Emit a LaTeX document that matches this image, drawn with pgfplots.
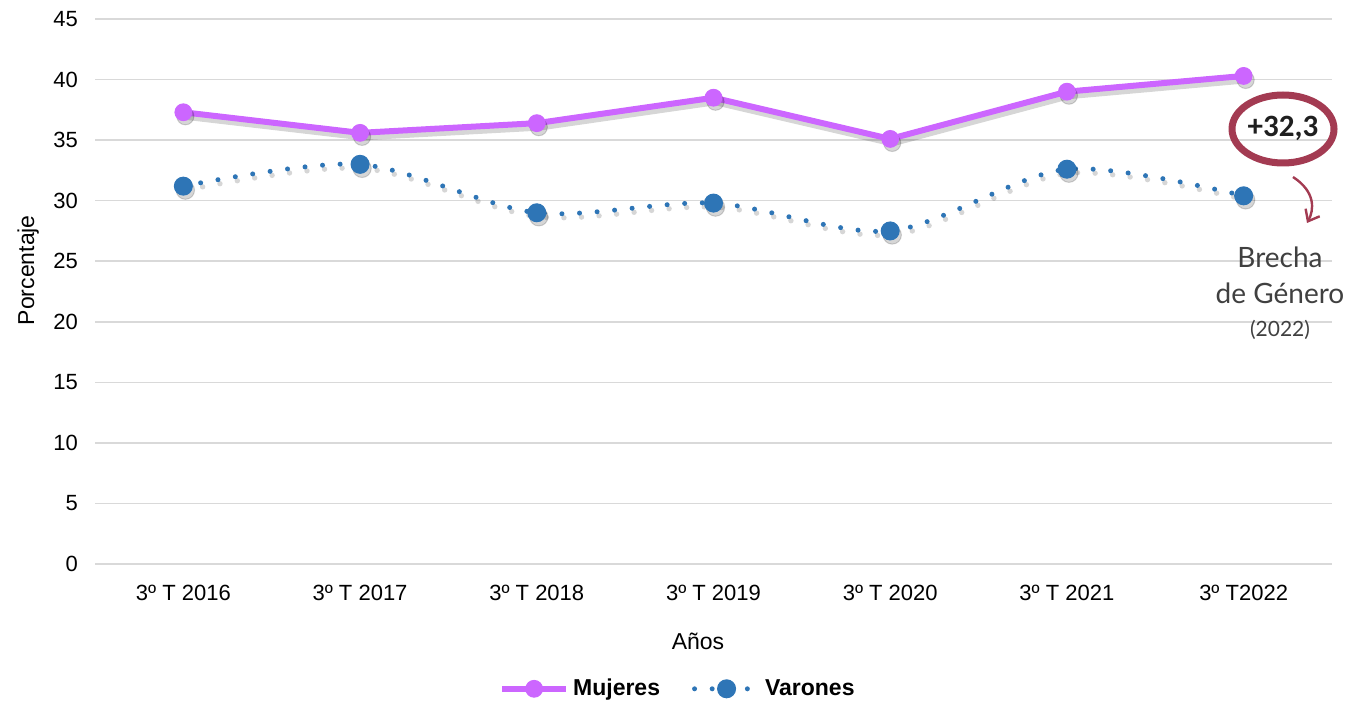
\documentclass[border=0pt]{standalone}
\usepackage{pgfplots}
\pgfplotsset{compat=1.18}
\usepackage{pgfplotstable}
\usepackage{fontspec}
\setmainfont{Liberation Sans}
\newfontfamily\calib{Carlito}
\newfontfamily\hand{Lato}
\usetikzlibrary{arrows.meta}
\definecolor{muj}{HTML}{CC66FF}
\definecolor{var}{HTML}{2E75B6}
\definecolor{gridc}{HTML}{D9D9D9}
\definecolor{ann}{HTML}{A33B52}
\definecolor{txt}{HTML}{404040}

\pgfplotstableread{
x m v
0 37.3 31.2
1 35.6 33.0
2 36.4 29.0
3 38.5 29.8
4 35.1 27.5
5 39.0 32.6
6 40.3 30.4
}\datatable

\begin{document}
\begin{tikzpicture}
\useasboundingbox (0,0) rectangle (680pt,351pt);
\begin{axis}[
  at={(47.5pt,69pt)}, anchor=south west,
  scale only axis, width=618.5pt, height=272.5pt,
  xmin=-0.5, xmax=6.5, ymin=0, ymax=45,
  ytick={0,5,...,45},
  xtick={0,...,6},
  xticklabels={3º T 2016,3º T 2017,3º T 2018,3º T 2019,3º T 2020,3º T 2021,3º T2022},
  axis line style={draw=none},
  major tick length=0pt,
  ymajorgrids, grid style={gridc, line width=0.75pt},
  tick label style={font=\fontsize{11}{13}\selectfont, text=black},
  /pgf/number format/assume math mode=true,
  yticklabel style={xshift=-5pt},
  xticklabel style={yshift=-7pt},
  xlabel={Años}, ylabel={Porcentaje},
  label style={font=\fontsize{11.5}{13}\selectfont},
  xlabel style={at={(axis description cs:0.4875,0)}, anchor=center, yshift=-38.5pt},
  ylabel style={at={(axis description cs:-0.054,0.539)}, anchor=center},
  legend columns=2,
  legend style={at={(axis description cs:0.472,-0.229)}, anchor=center, draw=none, fill=none,
    font=\fontsize{11.5}{13}\bfseries,
    /tikz/every even column/.append style={column sep=14pt},
    nodes={inner xsep=2pt}},
  legend image code/.code={\draw[#1, mark repeat=2, mark phase=2] plot coordinates {(0pt,0pt) (16pt,0pt) (32pt,0pt)};},
]
% shadows
\addplot[forget plot, black, opacity=0.16, line width=3.5pt, xshift=1pt, yshift=-2pt, mark=*, mark size=4.3pt, mark options={line width=0.5pt}] table[x=x,y=m]{\datatable};
\addplot[forget plot, black, opacity=0.16, smooth, line width=2.7pt, line cap=round, dash pattern=on 0pt off 8.8pt, xshift=1pt, yshift=-2pt, mark=*, mark size=4.6pt, mark options={solid, line width=0.5pt}] table[x=x,y=v]{\datatable};
% series
\addplot[muj, line width=3pt, mark=*, mark size=4.2pt, mark options={fill=muj, draw=muj, line width=0.5pt}] table[x=x,y=m]{\datatable};
\addlegendentry{Mujeres}
\addplot[var, smooth, line width=2.5pt, line cap=round, dash pattern=on 0pt off 8.8pt, mark=*, mark size=4.5pt, mark options={solid, fill=var, draw=var, line width=0.5pt}] table[x=x,y=v]{\datatable};
\addlegendentry{Varones}
\end{axis}
% annotation
\draw[ann, line width=3.5pt] (641.5pt,286.5pt) ellipse [x radius=25.5pt, y radius=17pt];
\node[font=\calib\bfseries\fontsize{15.5}{17}\selectfont, text=black!88] at (641.5pt,287pt) {+32,3};
\draw[ann, line width=1.2pt, -{Straight Barb[length=5pt,width=8pt]}] (646.5pt,262.5pt) .. controls (658pt,255pt) and (657pt,246pt) .. (653.5pt,239.5pt);
\node[font=\hand\fontsize{14}{16}\selectfont, text=txt] at (640pt,222.5pt) {Brecha};
\node[font=\hand\fontsize{14}{16}\selectfont, text=txt] at (640pt,204.5pt) {de Género};
\node[font=\hand\fontsize{10.5}{12}\selectfont, text=txt] at (640pt,186pt) {(2022)};
\end{tikzpicture}
\end{document}
